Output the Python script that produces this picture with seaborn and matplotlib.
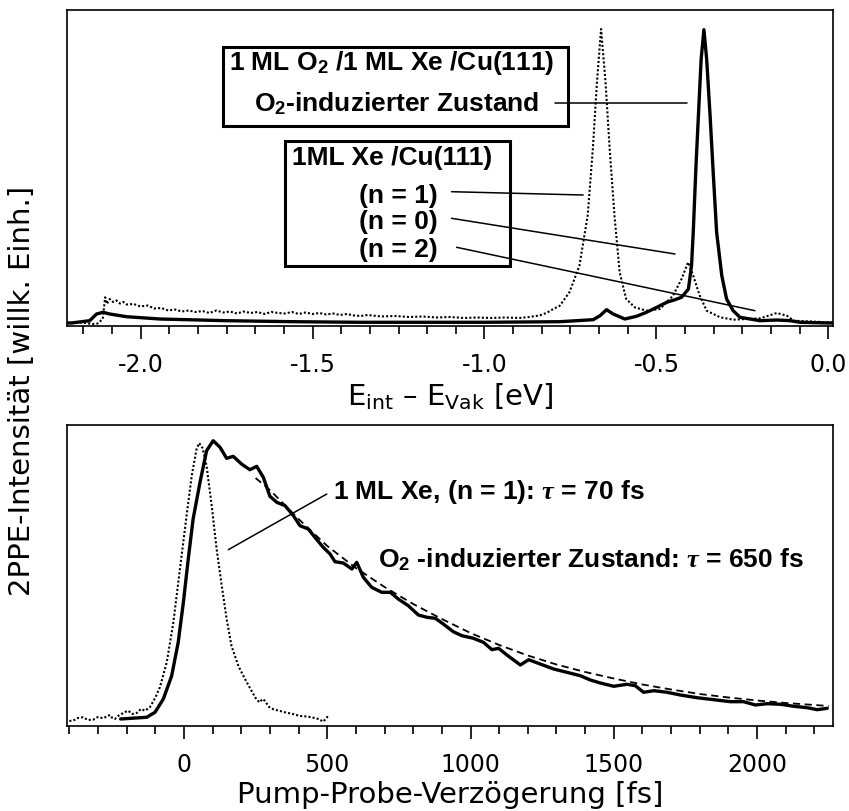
import matplotlib
matplotlib.use("Agg")
import matplotlib.pyplot as plt
from matplotlib.patches import Rectangle
from matplotlib.ticker import MultipleLocator
import seaborn as sns
import pandas as pd

# --- 2PPE spectra (energy relative to vacuum level, eV) -------------------
# 1 ML O2 / 1 ML Xe / Cu(111)
spec_o2_energy = [-2.213, -2.201, -2.148, -2.128, -2.109, -2.090, -2.041, -1.944,
                  -1.750, -1.556, -1.362, -1.000, -0.781, -0.684, -0.664, -0.645,
                  -0.626, -0.592, -0.558, -0.529, -0.499, -0.470, -0.446, -0.427,
                  -0.407, -0.398, -0.393, -0.385, -0.378, -0.370, -0.362, -0.354,
                  -0.344, -0.335, -0.325, -0.310, -0.296, -0.277, -0.257, -0.199,
                  -0.150, -0.111, -0.083, 0.0, 0.0125]
spec_o2_counts = [3.0, 3.0, 5.3, 12.0, 13.7, 12.0, 9.3, 7.0,
                  5.3, 4.3, 3.7, 3.7, 4.3, 6.3, 10.3, 16.3,
                  12.0, 7.0, 9.7, 13.7, 18.7, 23.7, 26.3, 28.7,
                  37.0, 60.3, 93.7, 160.3, 210.3, 267.0, 296.3, 267.0,
                  210.3, 153.7, 93.7, 50.3, 27.0, 15.3, 8.7, 5.3,
                  6.0, 5.3, 3.7, 3.0, 3.0]

# 1 ML Xe / Cu(111)
spec_xe_energy = [-2.213, -2.17, -2.14, -2.125, -2.11, -2.103, -2.098, -2.09, -2.08,
                  -2.07, -2.06, -2.05, -2.04, -2.02, -2.00, -1.98, -1.96, -1.94,
                  -1.92, -1.90, -1.88, -1.86, -1.84, -1.82, -1.80, -1.78, -1.76,
                  -1.74, -1.72, -1.70, -1.68, -1.66, -1.64, -1.62, -1.60, -1.58,
                  -1.56, -1.54, -1.52, -1.50, -1.48, -1.46, -1.44, -1.42, -1.40,
                  -1.38, -1.36, -1.34, -1.30, -1.26, -1.22, -1.18, -1.14, -1.10,
                  -1.06, -1.02, -0.98, -0.94, -0.90, -0.87, -0.84, -0.82, -0.80,
                  -0.781, -0.753, -0.724, -0.700, -0.685, -0.673, -0.661, -0.648,
                  -0.636, -0.622, -0.607, -0.588, -0.563, -0.529, -0.490, -0.452,
                  -0.427, -0.408, -0.393, -0.374, -0.354, -0.315, -0.276, -0.198,
                  -0.150, -0.121, -0.101, 0.0, 0.0125]
spec_xe_counts = [3.0, 3.5, 2.0, 2.5, 7.0, 28.7, 22.0, 27.0, 24.0,
                  25.5, 22.5, 24.0, 21.5, 22.0, 19.5, 20.5, 17.5, 18.0,
                  15.5, 16.5, 14.5, 15.5, 14.0, 15.0, 13.0, 15.5, 13.5,
                  14.5, 12.5, 14.5, 13.0, 14.0, 12.0, 14.0, 13.0, 12.5,
                  14.0, 12.0, 13.5, 12.0, 13.0, 11.5, 12.5, 11.0, 12.0,
                  10.5, 10.0, 11.0, 9.5, 10.0, 9.0, 9.5, 8.5, 9.0,
                  8.0, 8.5, 8.0, 8.5, 8.0, 9.0, 10.5, 13.0, 17.0,
                  20.3, 33.7, 60.3, 110.3, 177.0, 243.7, 297.0, 243.7,
                  177.0, 110.3, 53.7, 27.0, 18.7, 15.3, 17.0, 30.3,
                  47.0, 63.7, 50.3, 30.3, 15.3, 8.7, 6.3, 7.7,
                  13.0, 10.3, 5.3, 3.7, 3.5]

# --- time-resolved traces (pump-probe delay, fs) ---------------------------
# O2-induced state
tr_o2_delay = [-221, -130, -101, -72, -43, -20, -2, 15, 32, 56, 79, 102, 126, 149,
               172, 201, 230, 254, 277, 300, 324, 353, 382, 405, 434, 457, 486,
               510, 527, 556, 586, 603, 626, 655, 690, 720, 748, 783, 818, 848,
               877, 905, 940, 970, 1010, 1045, 1075, 1098, 1127, 1174, 1203, 1243,
               1290, 1336, 1383, 1418, 1453, 1500, 1546, 1575, 1604, 1640, 1686,
               1732, 1790, 1849, 1907, 1953, 1994, 2035, 2082, 2128, 2175, 2210, 2245]
tr_o2_signal = [7.0, 8.7, 13.7, 27.0, 50.0, 83.7, 123.7, 167.0, 207.0, 243.7, 275.3,
                285.3, 278.7, 267.7, 269.7, 262.0, 256.3, 259.7, 248.7, 229.7, 223.7,
                220.3, 210.3, 200.3, 197.0, 188.7, 178.7, 172.0, 164.3, 163.0, 157.0,
                163.7, 148.7, 138.7, 133.7, 133.7, 127.0, 120.3, 111.0, 108.7, 107.7,
                102.0, 94.3, 90.3, 87.7, 83.7, 76.3, 77.7, 71.0, 61.0, 66.3, 62.0,
                57.0, 53.7, 50.3, 46.0, 43.0, 39.7, 41.7, 40.3, 33.7, 35.3, 33.7,
                31.0, 28.3, 26.3, 24.3, 24.3, 21.0, 22.3, 21.7, 19.7, 18.3, 16.3, 17.7]

# single-exponential fit, tau = 650 fs
fit_o2_delay = [250, 300, 400, 500, 600, 700, 800, 900, 1000, 1100, 1200, 1300,
                1400, 1500, 1600, 1700, 1800, 1900, 2000, 2100, 2200, 2250]
fit_o2_signal = [248.0, 236.0, 207.0, 180.0, 158.0, 139.0, 122.0, 107.0, 93.0,
                 81.0, 70.5, 61.5, 54.0, 47.5, 41.5, 36.5, 32.0, 28.5, 25.5,
                 23.0, 21.0, 20.0]

# Xe (n = 1) image-potential state
tr_xe_delay = [-400, -387, -370, -352, -335, -317, -300, -282, -270, -258, -250,
               -241, -230, -218, -205, -195, -180, -165, -150, -136, -119, -101,
               -84, -60, -37, -14, 9, 27, 44, 53, 65, 79, 97, 114, 132, 149, 166,
               190, 213, 236, 250, 263, 275, 283, 297, 312, 335, 358, 380, 405,
               430, 451, 470, 486, 500, 510]
tr_xe_signal = [5.0, 5.3, 8.0, 8.7, 6.0, 6.3, 9.0, 7.7, 9.5, 11.0, 8.0,
                7.0, 10.0, 12.0, 14.0, 15.3, 12.0, 13.0, 17.0, 15.3, 18.7, 27.7,
                38.7, 63.7, 103.7, 157.0, 210.0, 250.0, 277.0, 283.0, 278.0, 260.0,
                220.0, 177.0, 140.0, 107.0, 80.0, 60.0, 47.0, 35.0, 28.0, 23.7,
                27.0, 25.0, 19.0, 16.7, 15.0, 13.3, 12.0, 10.0, 9.5, 8.3, 7.0,
                4.3, 9.0, 8.3]

# --- styling ----------------------------------------------------------------
sns.set_theme(style="ticks")
plt.rcParams.update({
    "font.family": ["DejaVu Sans"],
    "axes.unicode_minus": False,
    "text.color": "black",
    "axes.edgecolor": "black",
    "axes.labelcolor": "black",
    "xtick.color": "black",
    "ytick.color": "black",
    "axes.linewidth": 1.2,
    "mathtext.fontset": "custom",
    "mathtext.rm": "Liberation Sans:bold",
    "mathtext.bf": "Liberation Sans:bold",
    "mathtext.it": "Liberation Serif:italic:bold",
})

ANN = dict(family=["Liberation Sans", "DejaVu Sans"], fontweight="bold",
           fontsize=19, color="black")
TICK_FS = 17
LABEL_FS = 21

fig = plt.figure(figsize=(8.49, 8.12), dpi=100)
ax1 = fig.add_axes([0.0793, 0.5973, 0.9015, 0.3895])
ax2 = fig.add_axes([0.0793, 0.1047, 0.9015, 0.371])

solid = dict(color="black", linewidth=2.4, estimator=None, sort=False, legend=False)
dotted = dict(color="black", linewidth=1.5, linestyle=(0, (1, 1)),
              estimator=None, sort=False, legend=False)

# upper panel: energy spectra
df_xe = pd.DataFrame({"E": spec_xe_energy, "I": spec_xe_counts})
df_o2 = pd.DataFrame({"E": spec_o2_energy, "I": spec_o2_counts})
sns.lineplot(data=df_xe, x="E", y="I", ax=ax1, **dotted)
sns.lineplot(data=df_o2, x="E", y="I", ax=ax1, **solid)

ax1.set_xlim(-2.213, 0.0125)
ax1.set_ylim(0, 316.3)

# lower panel: pump-probe traces
df_txe = pd.DataFrame({"t": tr_xe_delay, "I": tr_xe_signal})
df_to2 = pd.DataFrame({"t": tr_o2_delay, "I": tr_o2_signal})
df_fit = pd.DataFrame({"t": fit_o2_delay, "I": fit_o2_signal})
sns.lineplot(data=df_txe, x="t", y="I", ax=ax2, **dotted)
sns.lineplot(data=df_fit, x="t", y="I", ax=ax2, color="black", linewidth=1.3,
             linestyle=(0, (4, 2.5)), estimator=None, sort=False, legend=False)
sns.lineplot(data=df_to2, x="t", y="I", ax=ax2, **solid)

ax2.set_xlim(-407, 2264)
ax2.set_ylim(0, 301.3)

for ax in (ax1, ax2):
    for sp in ax.spines.values():
        sp.set_visible(True)
        sp.set_linewidth(1.2)
    ax.set_yticks([])
    ax.set_ylabel("")
    ax.tick_params(axis="x", which="major", direction="out", length=9.5, width=1.2,
                   labelsize=TICK_FS, pad=9)
    ax.tick_params(axis="x", which="minor", direction="out", length=6, width=1.2)

ax1.xaxis.set_major_locator(MultipleLocator(0.5))
ax1.xaxis.set_minor_locator(MultipleLocator(0.5 / 6))
ax1.xaxis.set_major_formatter(plt.FormatStrFormatter("%.1f"))
ax2.xaxis.set_major_locator(MultipleLocator(500))
ax2.xaxis.set_minor_locator(MultipleLocator(100))

ax1.set_xlabel(r"E$_\mathrm{int}$ – E$_\mathrm{Vak}$ [eV]", fontsize=LABEL_FS,
               labelpad=3, math_fontfamily="dejavusans")
ax2.set_xlabel("Pump-Probe-Verzögerung [fs]", fontsize=LABEL_FS, labelpad=3)
fig.text(0.0259, 0.5185, "2PPE-Intensität [willk. Einh.]", rotation=90,
         ha="center", va="center", fontsize=LABEL_FS)

# upper panel annotations
ax1.add_patch(Rectangle((0.2038, 0.6333), 0.4508, 0.2478, transform=ax1.transAxes,
                        fill=False, edgecolor="black", linewidth=2.2, zorder=5))
ax1.add_patch(Rectangle((0.2844, 0.1887), 0.2940, 0.3971, transform=ax1.transAxes,
                        fill=False, edgecolor="black", linewidth=2.2, zorder=5))
ax1.text(0.4236, 0.8337, r"1 ML O$_\mathbf{2}$ /1 ML Xe /Cu(111)", transform=ax1.transAxes,
         ha="center", va="center", math_fontfamily="custom", **ANN)
ax1.text(0.4304, 0.705, r"O$_\mathbf{2}$-induzierter Zustand", transform=ax1.transAxes,
         ha="center", va="center", math_fontfamily="custom", **ANN)
ax1.text(0.4249, 0.5333, "1ML Xe /Cu(111)", transform=ax1.transAxes,
         ha="center", va="center", **ANN)
for label, yy in (("(n = 1)", 0.4151), ("(n = 0)", 0.331), ("(n = 2)", 0.2434)):
    ax1.text(0.4331, yy, label, transform=ax1.transAxes, ha="center", va="center", **ANN)

lead = dict(color="black", linewidth=1.1)
ax1.plot([-0.795, -0.412], [223, 223], **lead)
ax1.plot([-1.096, -0.713], [134.3, 131], **lead)
ax1.plot([-1.096, -0.446], [107.7, 72], **lead)
ax1.plot([-1.081, -0.2135], [78.7, 15.3], **lead)

# lower panel annotations
ax2.plot([154.7, 498.4], [176.3, 232], **lead)
ax2.text(0.3467, 0.781, r"1 ML Xe, (n = 1): $\tau$ = 70 fs", transform=ax2.transAxes,
         ha="left", va="center", math_fontfamily="custom", **ANN)
ax2.text(0.4063, 0.5543, r"O$_\mathbf{2}$ -induzierter Zustand: $\tau$ = 650 fs",
         transform=ax2.transAxes, ha="left", va="center", math_fontfamily="custom", **ANN)

fig.savefig("out.png", dpi=100)
